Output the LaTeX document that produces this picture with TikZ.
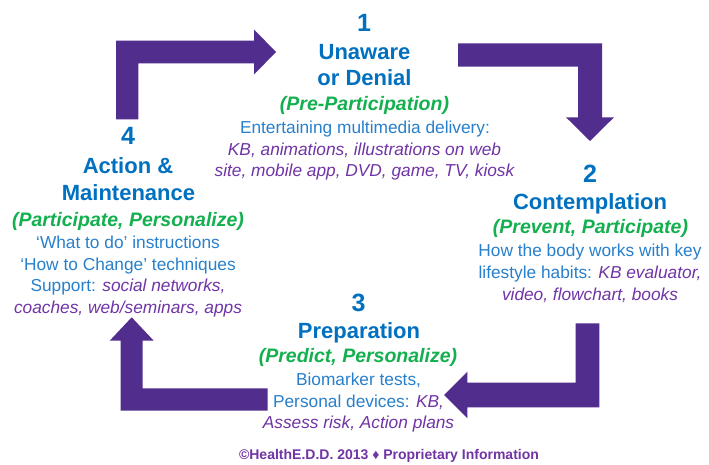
\documentclass[tikz,border=0pt]{standalone}
\usepackage{fontspec}
\setmainfont{Liberation Sans}

% palette
\definecolor{arrowpurple}{RGB}{81,45,141}
\definecolor{titleblue}{RGB}{0,112,192}
\definecolor{bodyblue}{RGB}{40,128,204}
\definecolor{stagegreen}{RGB}{20,176,80}
\definecolor{notepurple}{RGB}{112,52,166}

% purple italic run inside a body line
\newcommand{\pit}[1]{{\itshape\color{notepurple}#1}}

\tikzset{
  stagenum/.style={anchor=base, inner sep=0pt, text=titleblue,
    font=\bfseries\fontsize{25}{28}\selectfont},
  stagetitle/.style={anchor=base, inner sep=0pt, text=titleblue,
    font=\bfseries\fontsize{22}{26}\selectfont},
  stagesub/.style={anchor=base, inner sep=0pt, text=stagegreen,
    font=\bfseries\itshape\fontsize{19.5}{23}\selectfont},
  bodyline/.style={anchor=base, inner sep=0pt, text=bodyblue,
    font=\fontsize{17.3}{21}\selectfont},
  blockarrow/.style={fill=arrowpurple, draw=none},
  footer/.style={anchor=base, inner sep=0pt, text=notepurple,
    font=\bfseries\fontsize{14}{16}\selectfont}
}

\begin{document}
\begin{tikzpicture}[x=1pt, y=-1pt]
\useasboundingbox[fill=white] (0,0) rectangle (709,465);

% ---- cycle arrows ----
% 4 -> 1 (up, then right)
\fill[blockarrow] (116,40.7) -- (254,40.7) -- (254,29.5) -- (276,52)
  -- (254,74.5) -- (254,63.3) -- (138.3,63.3) -- (138.3,119.3)
  -- (116,119.3) -- cycle;
% 1 -> 2 (right, then down)
\fill[blockarrow] (458,43.3) -- (602,43.3) -- (602,117.3) -- (614,117.3)
  -- (590,141) -- (566,117.3) -- (578,117.3) -- (578,66.7)
  -- (458,66.7) -- cycle;
% 2 -> 3 (down, then left)
\fill[blockarrow] (575.7,323.3) -- (599.3,323.3) -- (599.3,407.3)
  -- (467.3,407.3) -- (467.3,418.3) -- (444,395) -- (467.3,371.7)
  -- (467.3,382.7) -- (575.7,382.7) -- cycle;
% 3 -> 4 (left, then up)
\fill[blockarrow] (267.7,410.7) -- (120.7,410.7) -- (120.7,340.7)
  -- (109.7,340.7) -- (131.7,317.3) -- (153.7,340.7) -- (142.7,340.7)
  -- (142.7,388.3) -- (267.7,388.3) -- cycle;

% ---- stage 1 ----
\node[stagenum]   (n1)  at (364,32)    {1};
\node[stagetitle] (t1a) at (364.5,59.3) {Unaware};
\node[stagetitle] (t1b) at (364.5,86)  {or Denial};
\node[stagesub]   (s1)  at (364.5,110.5) {(Pre-Participation)};
\node[bodyline]   (b1a) at (365,133.5) {Entertaining multimedia delivery:};
\node[bodyline]   (b1b) at (364.5,155.5) {\pit{KB, animations, illustrations on web}};
\node[bodyline]   (b1c) at (364.5,177) {\pit{site, mobile app, DVD, game, TV, kiosk}};

% ---- stage 2 ----
\node[stagenum]   (n2)  at (590,182.3) {2};
\node[stagetitle] (t2)  at (590,209.5) {Contemplation};
\node[stagesub]   (s2)  at (590.5,233.3) {(Prevent, Participate)};
\node[bodyline]   (b2a) at (590,256)   {How the body works with key};
\node[bodyline]   (b2b) at (590,278.3) {lifestyle habits: \pit{KB evaluator,}};
\node[bodyline]   (b2c) at (590,300)   {\pit{video, flowchart, books}};

% ---- stage 3 ----
\node[stagenum]   (n3)  at (358.5,311.7) {3};
\node[stagetitle] (t3)  at (359,338.3) {Preparation};
\node[stagesub]   (s3)  at (358,362.7) {(Predict, Personalize)};
\node[bodyline]   (b3a) at (358.5,385) {Biomarker tests,};
\node[bodyline]   (b3b) at (358.5,407.3) {Personal devices: \pit{KB,}};
\node[bodyline]   (b3c) at (358.5,428.3) {\pit{Assess risk, Action plans}};

% ---- stage 4 ----
\node[stagenum]   (n4)  at (128,145)   {4};
\node[stagetitle] (t4a) at (128,173.3) {Action \&};
\node[stagetitle] (t4b) at (128.5,200.7) {Maintenance};
\node[stagesub]   (s4)  at (128,226.7) {(Participate, Personalize)};
\node[bodyline]   (b4a) at (128,248.3) {‘What to do’ instructions};
\node[bodyline]   (b4b) at (128,270)   {‘How to Change’ techniques};
\node[bodyline]   (b4c) at (128,291.7) {Support: \pit{social networks,}};
\node[bodyline]   (b4d) at (128,313.3) {\pit{coaches, web/seminars, apps}};

% ---- footer ----
\node[footer] (foot) at (389,459) {©HealthE.D.D. 2013 ♦ Proprietary Information};
\end{tikzpicture}
\end{document}
